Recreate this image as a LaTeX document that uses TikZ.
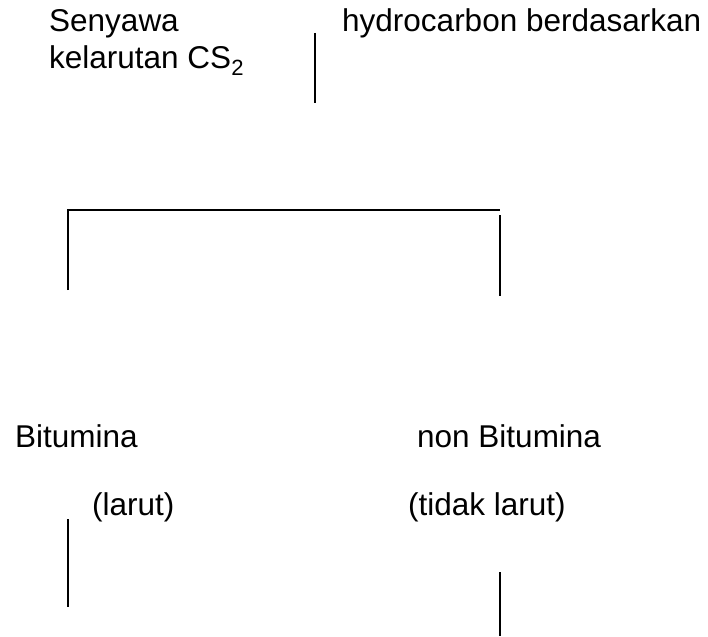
\documentclass[tikz,border=0pt]{standalone}
\usepackage{fontspec}
\setmainfont{Liberation Sans}
\usetikzlibrary{positioning}

\begin{document}
\begin{tikzpicture}[x=1pt, y=-1pt, lbl/.style={inner sep=0pt, anchor=base west, font=\fontsize{31.5}{37}\selectfont}, rule/.style={line width=1.4pt}, bar/.style={line width=2pt}]
      \useasboundingbox (0,0) rectangle (708,636);
      % top labels
      \node[lbl] (senyawa) at (49,32) {Senyawa};
      \node[lbl] (kelarutan) at (49,69) {kelarutan CS\textsubscript{2}};
      \node[lbl] (hydro) at (342,32) {hydrocarbon berdasarkan};
      % bottom labels
      \node[lbl] (bit) at (15,447) {Bitumina};
      \node[lbl] (nonbit) at (417,447) {non Bitumina};
      \node[lbl] (larut) at (92,515) {(larut)};
      \node[lbl] (tdklarut) at (408,515) {(tidak larut)};
      % line ends
      \coordinate (top1) at (315,33);
      \coordinate (top2) at (315,103);
      \coordinate (brl) at (68,290);
      \coordinate (brc) at (68,210);
      \coordinate (brr) at (500,210);
      \coordinate (rt1) at (500,215);
      \coordinate (rt2) at (500,296);
      \coordinate (lb1) at (68,519);
      \coordinate (lb2) at (68,607);
      \coordinate (rb1) at (500,572);
      \coordinate (rb2) at (500,636);
      \draw[rule] (top1) -- (top2);
      \draw[bar] (brl) -- (brc) -- (brr);
      \draw[bar] (rt1) -- (rt2);
      \draw[rule] (lb1) -- (lb2);
      \draw[rule] (rb1) -- (rb2);
\end{tikzpicture}
\end{document}
